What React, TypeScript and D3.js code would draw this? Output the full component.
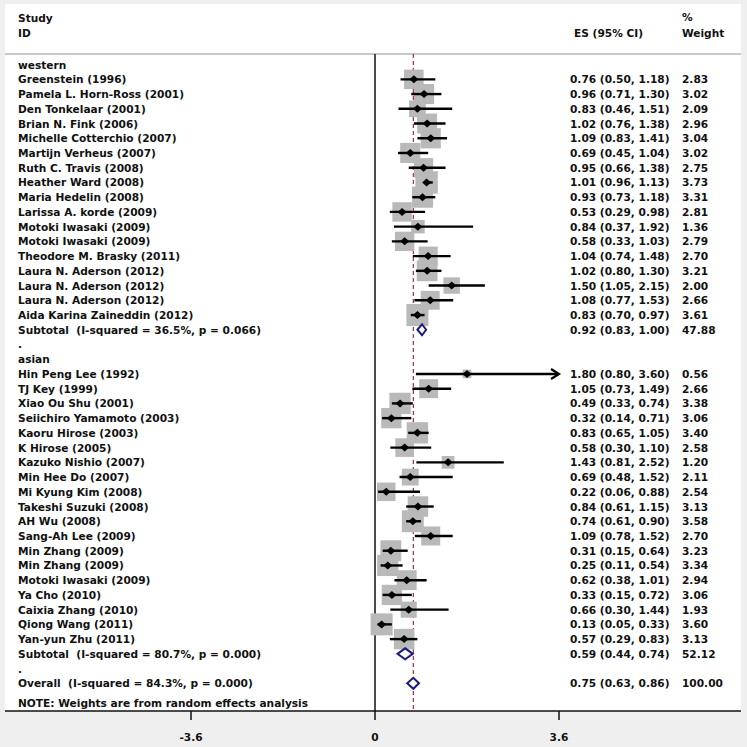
import React from "react";
import * as d3 from "d3";

// study labels, effect sizes, CIs and weights
const westernStudies = [
  "Greenstein (1996)", "Pamela L. Horn-Ross (2001)", "Den Tonkelaar (2001)", "Brian N. Fink (2006)",
  "Michelle Cotterchio (2007)", "Martijn Verheus (2007)", "Ruth C. Travis (2008)", "Heather Ward (2008)",
  "Maria Hedelin (2008)", "Larissa A. korde (2009)", "Motoki Iwasaki (2009)", "Motoki Iwasaki (2009)",
  "Theodore M. Brasky (2011)", "Laura N. Aderson (2012)", "Laura N. Aderson (2012)", "Laura N. Aderson (2012)",
  "Aida Karina Zaineddin (2012)",
];
const westernES = [0.76, 0.96, 0.83, 1.02, 1.09, 0.69, 0.95, 1.01, 0.93, 0.53, 0.84, 0.58, 1.04, 1.02, 1.50, 1.08, 0.83];
const westernLo = [0.50, 0.71, 0.46, 0.76, 0.83, 0.45, 0.66, 0.96, 0.73, 0.29, 0.37, 0.33, 0.74, 0.80, 1.05, 0.77, 0.70];
const westernHi = [1.18, 1.30, 1.51, 1.38, 1.41, 1.04, 1.38, 1.13, 1.18, 0.98, 1.92, 1.03, 1.48, 1.30, 2.15, 1.53, 0.97];
const westernWeight = [2.83, 3.02, 2.09, 2.96, 3.04, 3.02, 2.75, 3.73, 3.31, 2.81, 1.36, 2.79, 2.70, 3.21, 2.00, 2.66, 3.61];

const asianStudies = [
  "Hin Peng Lee (1992)", "TJ Key (1999)", "Xiao Ou Shu (2001)", "Seiichiro Yamamoto (2003)", "Kaoru Hirose (2003)",
  "K Hirose (2005)", "Kazuko Nishio (2007)", "Min Hee Do (2007)", "Mi Kyung Kim (2008)", "Takeshi Suzuki (2008)",
  "AH Wu (2008)", "Sang-Ah Lee (2009)", "Min Zhang (2009)", "Min Zhang (2009)", "Motoki Iwasaki (2009)",
  "Ya Cho (2010)", "Caixia Zhang (2010)", "Qiong Wang (2011)", "Yan-yun Zhu (2011)",
];
const asianES = [1.80, 1.05, 0.49, 0.32, 0.83, 0.58, 1.43, 0.69, 0.22, 0.84, 0.74, 1.09, 0.31, 0.25, 0.62, 0.33, 0.66, 0.13, 0.57];
const asianLo = [0.80, 0.73, 0.33, 0.14, 0.65, 0.30, 0.81, 0.48, 0.06, 0.61, 0.61, 0.78, 0.15, 0.11, 0.38, 0.15, 0.30, 0.05, 0.29];
const asianHi = [3.60, 1.49, 0.74, 0.71, 1.05, 1.10, 2.52, 1.52, 0.88, 1.15, 0.90, 1.52, 0.64, 0.54, 1.01, 0.72, 1.44, 0.33, 0.83];
const asianWeight = [0.56, 2.66, 3.38, 3.06, 3.40, 2.58, 1.20, 2.11, 2.54, 3.13, 3.58, 2.70, 3.23, 3.34, 2.94, 3.06, 1.93, 3.60, 3.13];

const pooledLabels = ["Subtotal  (I-squared = 36.5%, p = 0.066)", "Subtotal  (I-squared = 80.7%, p = 0.000)", "Overall  (I-squared = 84.3%, p = 0.000)"];
const pooledES = [0.92, 0.59, 0.75];
const pooledLo = [0.83, 0.44, 0.63];
const pooledHi = [1.00, 0.74, 0.86];
const pooledWeight = ["47.88", "52.12", "100.00"];

const axisTicks = [-3.6, 0, 3.6];
const axisTickLabels = ["-3.6", "0", "3.6"];

const W = 747, H = 747;
const FONT = "'DejaVu Sans', Verdana, sans-serif";
const fmt = d3.format(".2f");

type Row =
  | { kind: "label"; text: string }
  | { kind: "study"; text: string; es: number; lo: number; hi: number; w: number }
  | { kind: "pooled"; text: string; es: number; lo: number; hi: number; w: string };

const buildRows = (): Row[] => {
  const rows: Row[] = [];
  rows.push({ kind: "label", text: "western" });
  westernStudies.forEach((s, i) =>
    rows.push({ kind: "study", text: s, es: westernES[i], lo: westernLo[i], hi: westernHi[i], w: westernWeight[i] })
  );
  rows.push({ kind: "pooled", text: pooledLabels[0], es: pooledES[0], lo: pooledLo[0], hi: pooledHi[0], w: pooledWeight[0] });
  rows.push({ kind: "label", text: "." });
  rows.push({ kind: "label", text: "asian" });
  asianStudies.forEach((s, i) =>
    rows.push({ kind: "study", text: s, es: asianES[i], lo: asianLo[i], hi: asianHi[i], w: asianWeight[i] })
  );
  rows.push({ kind: "pooled", text: pooledLabels[1], es: pooledES[1], lo: pooledLo[1], hi: pooledHi[1], w: pooledWeight[1] });
  rows.push({ kind: "label", text: "." });
  rows.push({ kind: "pooled", text: pooledLabels[2], es: pooledES[2], lo: pooledLo[2], hi: pooledHi[2], w: pooledWeight[2] });
  return rows;
};

const App = () => {
  const rows = buildRows();
  const x = d3.scaleLinear().domain([-3.6, 3.6]).range([191, 559]);
  const y = d3.scaleLinear().domain([0, rows.length - 1]).range([64.6, 683.3]);
  const side = d3.scaleSqrt().domain([0, 1]).range([0, 11.6]);

  const top = 54, axisY = 711;
  const overall = pooledES[2];

  return (
    <svg width={W} height={H} style={{ position: "absolute", left: 0, top: 0 }} fontFamily={FONT} fontWeight="bold">
      <rect width={W} height={H} fill="#efefef" />
      <rect x={5} y={4} width={736} height={axisY - 4} fill="white" />
      <line x1={5} x2={741} y1={top} y2={top} stroke="#c8c8c8" strokeWidth={2} />

      {/* header */}
      <g fontSize={10.6} fill="#111">
        <text x={18} y={22}>Study</text>
        <text x={18} y={37}>ID</text>
        <text x={643} y={37} textAnchor="end">ES (95% CI)</text>
        <text x={682} y={21}>%</text>
        <text x={682} y={37}>Weight</text>
      </g>

      {/* reference lines */}
      <line x1={x(overall)} x2={x(overall)} y1={top} y2={axisY} stroke="#9b2d44" strokeWidth={1.2} strokeDasharray="4,3" />
      <line x1={x(0)} x2={x(0)} y1={top} y2={axisY} stroke="#111" strokeWidth={1.5} />

      {/* weight squares */}
      {rows.map((r, i) =>
        r.kind === "study" ? (
          <rect key={"sq" + i} x={x(r.es) - side(r.w) / 2} y={y(i) - side(r.w) / 2}
            width={side(r.w)} height={side(r.w)} fill="#b9b9b9" />
        ) : null
      )}

      {/* confidence intervals and point estimates */}
      {rows.map((r, i) => {
        if (r.kind !== "study") return null;
        const cy = y(i);
        const clipped = r.hi >= 3.6;
        const x2 = x(Math.min(r.hi, 3.6));
        return (
          <g key={"ci" + i}>
            <line x1={x(r.lo)} x2={x2} y1={cy} y2={cy} stroke="#000" strokeWidth={2.4} />
            {clipped && (
              <path d={`M${x2 - 8},${cy - 5} L${x2},${cy} L${x2 - 8},${cy + 5}`} fill="none" stroke="#000" strokeWidth={2.2} />
            )}
            <path d={`M${x(r.es) - 4.5},${cy} L${x(r.es)},${cy - 4} L${x(r.es) + 4.5},${cy} L${x(r.es)},${cy + 4} Z`} fill="#000" />
          </g>
        );
      })}

      {/* pooled diamonds */}
      {rows.map((r, i) =>
        r.kind === "pooled" ? (
          <path key={"dm" + i}
            d={`M${x(r.lo)},${y(i)} L${x(r.es)},${y(i) - 5.5} L${x(r.hi)},${y(i)} L${x(r.es)},${y(i) + 5.5} Z`}
            fill="white" stroke="#1b1b7a" strokeWidth={2} />
        ) : null
      )}

      {/* text columns */}
      <g fontSize={10.6} fill="#111" dominantBaseline="central">
        {rows.map((r, i) => (
          <g key={"tx" + i}>
            <text x={18} y={y(i)} xmlSpace="preserve" style={{ whiteSpace: "pre" }}>{r.text}</text>
            {r.kind !== "label" && (
              <>
                <text x={570} y={y(i)}>{`${fmt(r.es)} (${fmt(r.lo)}, ${fmt(r.hi)})`}</text>
                <text x={682} y={y(i)}>{typeof r.w === "number" ? fmt(r.w) : r.w}</text>
              </>
            )}
          </g>
        ))}
        <text x={18} y={703}>NOTE: Weights are from random effects analysis</text>
      </g>

      {/* x axis */}
      <line x1={5} x2={741} y1={axisY} y2={axisY} stroke="#111" strokeWidth={1.5} />
      {axisTicks.map((t, i) => (
        <g key={"tk" + i}>
          <line x1={x(t)} x2={x(t)} y1={axisY} y2={axisY + 9} stroke="#111" strokeWidth={1.5} />
          <text x={x(t)} y={737} textAnchor="middle" dominantBaseline="central" fontSize={10.6} fill="#111">
            {axisTickLabels[i]}
          </text>
        </g>
      ))}
    </svg>
  );
};

export default App;
